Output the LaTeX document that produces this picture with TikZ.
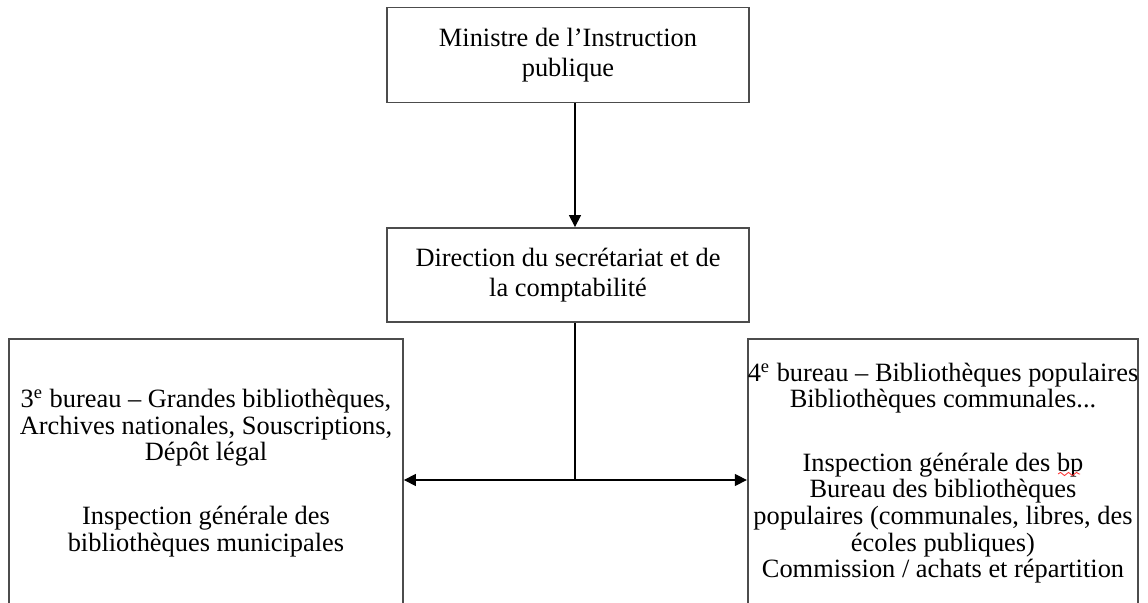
\documentclass[tikz,border=0pt]{standalone}
\usepackage{fontspec}
\setmainfont{Liberation Serif}
\usetikzlibrary{arrows.meta,decorations.pathmorphing}
\tikzset{
  boite/.style={draw=black!70, line width=0.9pt, align=center, inner sep=0pt,
    font=\fontsize{13.2}{14.8}\selectfont},
  bureau/.style={boite, minimum height=134pt, font=\fontsize{13.2}{13.3}\selectfont},
  fleche/.style={line width=0.6pt, -{Triangle[length=6pt,width=6pt]}}
}
\begin{document}
\begin{tikzpicture}[x=0.5pt,y=-0.5pt]
    \useasboundingbox (0,0) rectangle (1148,603);
    \clip (0,0) rectangle (1148,603);

    \node[boite, minimum width=181pt, minimum height=47.5pt] (ministre) at (568,55)
        {Ministre de l’Instruction\\publique};
    \node[boite, minimum width=181pt, minimum height=47pt] (direction) at (568,275)
        {Direction du secrétariat et de\\la comptabilité};
    \node[bureau, minimum width=197pt] (bureau3) at (206,473)
        {3\textsuperscript{e} bureau – Grandes bibliothèques,\\Archives nationales, Souscriptions,\\Dépôt légal\\[18.5pt]
         Inspection générale des\\bibliothèques municipales};
    \node[bureau, minimum width=195pt] (bureau4) at (943,473)
        {4\textsuperscript{e} bureau – Bibliothèques populaires\\Bibliothèques communales...\\[18.5pt]
         Inspection générale des bp\\Bureau des bibliothèques\\populaires (communales, libres, des\\écoles publiques)\\Commission / achats et répartition};

    \coordinate (jonction) at (575,480);
    \draw[fleche] (ministre.south -| jonction) -- (direction.north -| jonction);
    \draw[line width=0.6pt] (direction.south -| jonction) -- (jonction);
    \draw[fleche] (jonction) -- (bureau3.east |- jonction);
    \draw[fleche] (jonction) -- (bureau4.west |- jonction);

    % souligne rouge sous bp
    \draw[red!80, line width=0.4pt, decorate, decoration={snake, amplitude=0.8pt, segment length=4pt}]
        (1058,474) -- (1080,474);
\end{tikzpicture}
\end{document}
